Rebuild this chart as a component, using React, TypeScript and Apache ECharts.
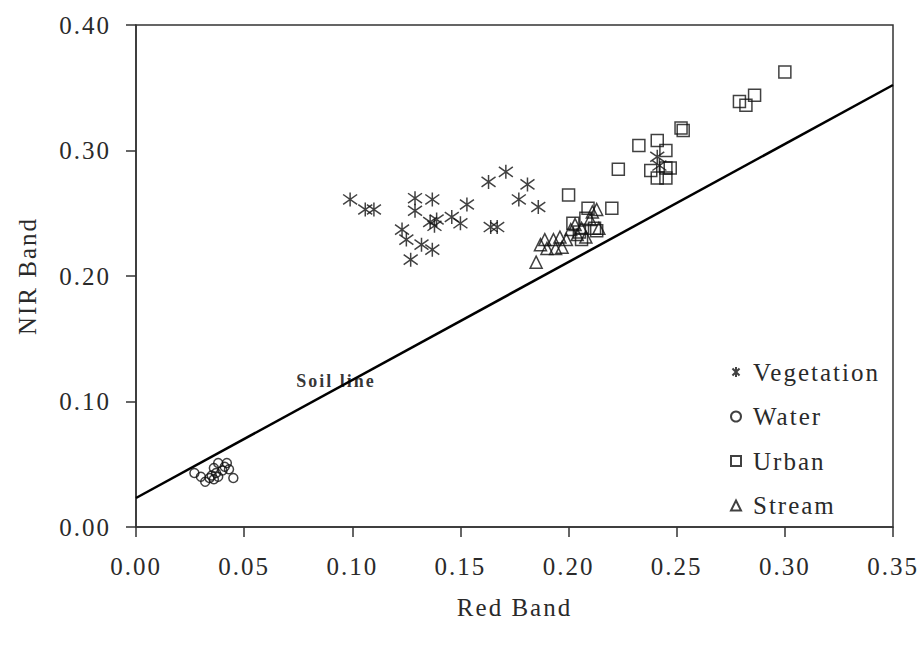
import React, { useEffect, useRef } from "react";
import * as echarts from "echarts";

const xTicks = [0, 0.35, 0.05];
const yTicks = [0, 0.4, 0.1];

const vegetation: number[][] = [
  [0.099, 0.261], [0.106, 0.253], [0.110, 0.253], [0.129, 0.262], [0.129, 0.252],
  [0.137, 0.261], [0.136, 0.243], [0.138, 0.240], [0.139, 0.245], [0.146, 0.247],
  [0.150, 0.242], [0.153, 0.257], [0.123, 0.237], [0.125, 0.229], [0.132, 0.225],
  [0.137, 0.221], [0.127, 0.213], [0.163, 0.275], [0.171, 0.283], [0.181, 0.273],
  [0.177, 0.261], [0.186, 0.255], [0.164, 0.239], [0.167, 0.239], [0.241, 0.295],
  [0.242, 0.288],
];

const water: number[][] = [
  [0.027, 0.043], [0.030, 0.040], [0.032, 0.036], [0.034, 0.039], [0.035, 0.041],
  [0.036, 0.047], [0.037, 0.043], [0.038, 0.051], [0.038, 0.040], [0.040, 0.045],
  [0.041, 0.048], [0.042, 0.051], [0.043, 0.046], [0.045, 0.039], [0.036, 0.038],
];

const urban: number[][] = [
  [0.300, 0.3625], [0.286, 0.344], [0.279, 0.339], [0.282, 0.336], [0.252, 0.318],
  [0.253, 0.316], [0.2325, 0.304], [0.241, 0.308], [0.245, 0.300], [0.223, 0.285],
  [0.238, 0.284], [0.245, 0.286], [0.247, 0.286], [0.241, 0.278], [0.245, 0.278],
  [0.200, 0.2645], [0.209, 0.254], [0.220, 0.254], [0.202, 0.242], [0.205, 0.235],
  [0.212, 0.238], [0.213, 0.236], [0.208, 0.246], [0.206, 0.229],
];

const stream: number[][] = [
  [0.185, 0.211], [0.187, 0.225], [0.189, 0.229], [0.190, 0.222], [0.193, 0.229],
  [0.194, 0.222], [0.196, 0.231], [0.197, 0.223], [0.199, 0.229], [0.201, 0.237],
  [0.203, 0.241], [0.204, 0.233], [0.206, 0.238], [0.208, 0.231], [0.210, 0.245],
  [0.211, 0.251], [0.213, 0.253], [0.214, 0.238],
];

const soilLine: number[][] = [[0, 0.0231], [0.35, 0.3522]];
const soilLabel: number[][] = [[0.0925, 0.116]];

const seriesNames = ["Vegetation", "Water", "Urban", "Stream"];

const asterisk =
  "path://M0,-10L0,10M-7.07,-7.07L7.07,7.07M-7.07,7.07L7.07,-7.07";

export default function App() {
  const ref = useRef<HTMLDivElement>(null);
  useEffect(() => {
    if (!ref.current) return;
    const chart = echarts.init(ref.current, null, { renderer: "svg" });
    const font = "'Liberation Serif', 'Times New Roman', serif";
    const txt = "#2a2a2a";
    const markStyle = { color: "transparent", borderColor: "#111", borderWidth: 1.5 };
    chart.setOption({
      animation: false,
      backgroundColor: "#fff",
      grid: {
        left: 136, right: 29, top: 25, bottom: 119,
        show: true, borderColor: "#333", borderWidth: 1.5,
      },
      xAxis: {
        type: "value", min: xTicks[0], max: xTicks[1], interval: xTicks[2],
        name: "Red Band", nameLocation: "middle", nameGap: 68,
        nameTextStyle: { fontFamily: font, fontSize: 25, color: txt },
        axisLine: { show: true, lineStyle: { color: "#333", width: 1.5 } },
        axisTick: { show: true, inside: false, length: 10, lineStyle: { color: "#333", width: 1.5 } },
        axisLabel: {
          fontFamily: font, fontSize: 25, color: txt, margin: 27,
          formatter: (v: number) => v.toFixed(2),
        },
        splitLine: { show: false },
      },
      yAxis: {
        type: "value", min: yTicks[0], max: yTicks[1], interval: yTicks[2],
        name: "NIR Band", nameLocation: "middle", nameGap: 96, nameRotate: 90,
        nameTextStyle: { fontFamily: font, fontSize: 25, color: txt },
        axisLine: { show: true, lineStyle: { color: "#333", width: 1.5 } },
        axisTick: { show: true, inside: false, length: 10, lineStyle: { color: "#333", width: 1.5 } },
        axisLabel: {
          fontFamily: font, fontSize: 25, color: txt, margin: 25,
          formatter: (v: number) => v.toFixed(2),
        },
        splitLine: { show: false },
      },
      legend: {
        data: seriesNames,
        orient: "vertical",
        left: 725, top: 354,
        itemWidth: 10, itemHeight: 10, itemGap: 18.5,
        textStyle: { fontFamily: font, fontSize: 25, color: txt, lineHeight: 26, padding: [0, 0, 0, 7] },
      },
      series: [
        {
          type: "line", data: soilLine, symbol: "none", silent: true,
          lineStyle: { color: "#000", width: 2.5 },
        },
        {
          type: "scatter", data: soilLabel, symbolSize: 0, silent: true,
          label: {
            show: true, position: "inside", formatter: "Soil line",
            fontFamily: font, fontSize: 18, fontWeight: "bold", color: "#000",
          },
        },
        {
          name: "Vegetation", type: "scatter", data: vegetation,
          symbol: asterisk, symbolSize: 14, itemStyle: markStyle,
        },
        {
          name: "Water", type: "scatter", data: water,
          symbol: "circle", symbolSize: 9, itemStyle: markStyle,
        },
        {
          name: "Urban", type: "scatter", data: urban,
          symbol: "rect", symbolSize: 12, itemStyle: markStyle,
        },
        {
          name: "Stream", type: "scatter", data: stream,
          symbol: "triangle", symbolSize: 12, itemStyle: markStyle,
        },
      ],
    });
    return () => chart.dispose();
  }, []);
  return (
    <>
      <style>{".rs-chart svg text { letter-spacing: 2px; }"}</style>
      <div
        className="rs-chart"
        ref={ref}
        style={{ width: 922, height: 646, position: "absolute", left: 0, top: 0 }}
      />
    </>
  );
}
